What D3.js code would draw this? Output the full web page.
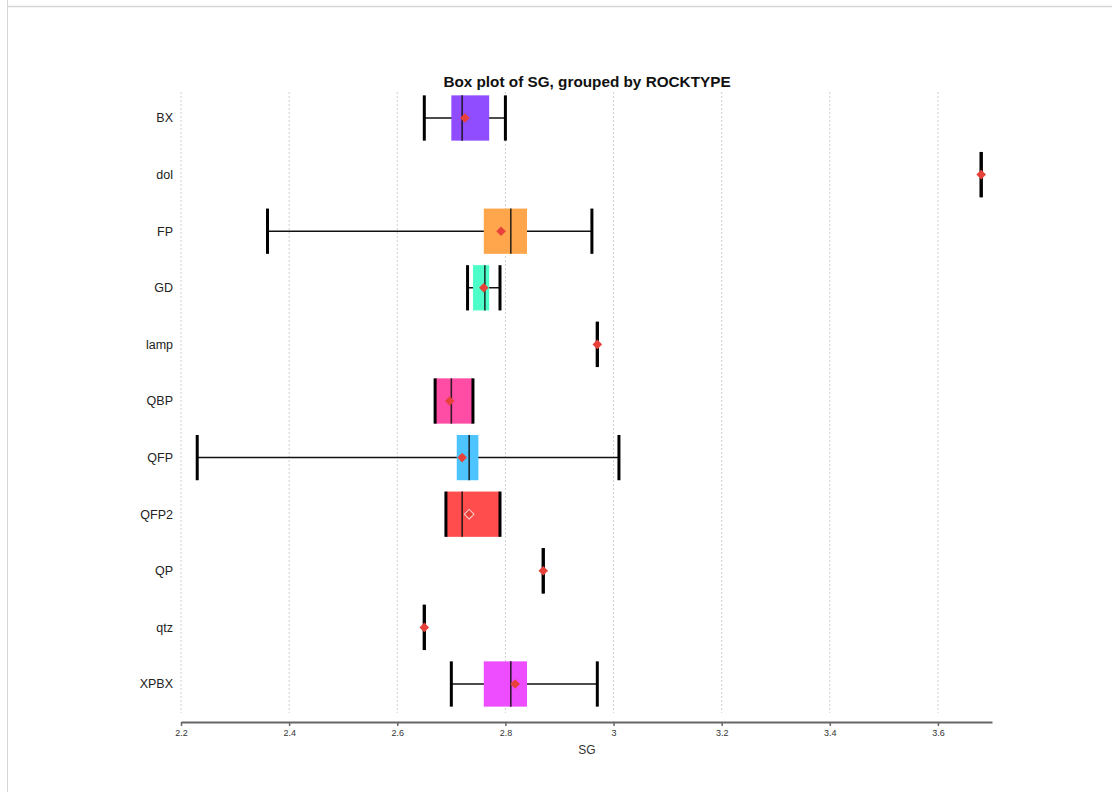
<!DOCTYPE html>
<html>
<head>
<meta charset="utf-8">
<script src="https://cdn.jsdelivr.net/npm/d3@7"></script>
<style>
  html, body { margin: 0; padding: 0; background: #fff; }
  svg { display: block; font-family: "Liberation Sans", Arial, Helvetica, sans-serif; }
</style>
</head>
<body>
<svg id="chart" width="1112" height="792"></svg>
<script>
// Rock types, top to bottom
const rockTypes = ["BX", "dol", "FP", "GD", "lamp", "QBP", "QFP", "QFP2", "QP", "qtz", "XPBX"];
// Five-number summaries of SG per rock type
const whiskerLow  = [2.65, 3.68, 2.36, 2.73, 2.97, 2.67, 2.23, 2.69, 2.87, 2.65, 2.70];
const q1          = [2.70, 3.68, 2.76, 2.74, 2.97, 2.67, 2.71, 2.69, 2.87, 2.65, 2.76];
const medians     = [2.72, 3.68, 2.81, 2.762, 2.97, 2.70, 2.733, 2.72, 2.87, 2.65, 2.81];
const q3          = [2.77, 3.68, 2.84, 2.77, 2.97, 2.74, 2.75, 2.79, 2.87, 2.65, 2.84];
const whiskerHigh = [2.80, 3.68, 2.96, 2.79, 2.97, 2.74, 3.01, 2.79, 2.87, 2.65, 2.97];
const means       = [2.725, 3.68, 2.792, 2.76, 2.97, 2.697, 2.72, 2.733, 2.87, 2.65, 2.818];
const boxColors   = ["#8f4dff", "#ff4d4d", "#ffa64d", "#4dffc9", "#ff4d4d", "#ff4da6", "#4dc4ff", "#ff4d4d", "#ff4d4d", "#ff4d4d", "#ee4dff"];
const xTicks      = [2.2, 2.4, 2.6, 2.8, 3.0, 3.2, 3.4, 3.6];

const groups = rockTypes.map((name, i) => ({
  name, lo: whiskerLow[i], q1: q1[i], med: medians[i], q3: q3[i], hi: whiskerHigh[i],
  mean: means[i], color: boxColors[i]
}));

const svg = d3.select("#chart");

// Page frame
svg.append("line").attr("x1", 7).attr("x2", 1112).attr("y1", 6.5).attr("y2", 6.5)
  .attr("stroke", "#d6d6d6").attr("stroke-width", 1.5);
svg.append("line").attr("x1", 7.5).attr("x2", 7.5).attr("y1", 0).attr("y2", 792)
  .attr("stroke", "#d6d6d6").attr("stroke-width", 1);

const x = d3.scaleLinear().domain([2.2, 3.7]).range([181, 992]);
const y = d3.scaleBand().domain(rockTypes).range([89.7, 712.3]).paddingInner(0.2).paddingOuter(0.1);
const bw = y.bandwidth();
const cy = d => y(d) + bw / 2;

// Title
svg.append("text").attr("x", 587).attr("y", 87).attr("text-anchor", "middle")
  .attr("font-size", 15.3).attr("font-weight", "bold").attr("fill", "#111")
  .text("Box plot of SG, grouped by ROCKTYPE");

// Vertical dotted gridlines
svg.append("g").selectAll("line").data(xTicks).join("line")
  .attr("x1", d => x(d)).attr("x2", d => x(d))
  .attr("y1", 92).attr("y2", 713)
  .attr("stroke", "#cfcfcf").attr("stroke-width", 1).attr("stroke-dasharray", "2,2");

// Category labels
svg.append("g").selectAll("text").data(rockTypes).join("text")
  .attr("x", 173).attr("y", d => cy(d)).attr("dy", "0.35em")
  .attr("text-anchor", "end").attr("font-size", 12.5).attr("fill", "#222")
  .text(d => d);

// X axis
const axisG = svg.append("g").attr("transform", "translate(0,722)")
  .call(d3.axisBottom(x).tickValues(xTicks).tickSize(4).tickSizeOuter(0)
    .tickFormat(d => d3.format("~g")(d)));
axisG.select(".domain").attr("stroke", "#666").attr("stroke-width", 2);
axisG.selectAll(".tick line").attr("stroke", "#666").attr("stroke-width", 1.5);
axisG.selectAll(".tick text").attr("font-size", 9).attr("fill", "#333")
  .attr("font-family", "'Liberation Sans Narrow', 'Liberation Sans', sans-serif").attr("y", 8);

svg.append("text").attr("x", 587).attr("y", 754).attr("text-anchor", "middle")
  .attr("font-size", 12).attr("fill", "#333").text("SG");

// Boxes
const g = svg.append("g").selectAll("g").data(groups).join("g");

// whisker stems
g.append("line")
  .attr("x1", d => x(d.lo)).attr("x2", d => x(d.hi))
  .attr("y1", d => cy(d.name)).attr("y2", d => cy(d.name))
  .attr("stroke", "#111").attr("stroke-width", 1.5);

// boxes
g.filter(d => d.q3 > d.q1).append("rect")
  .attr("x", d => x(d.q1)).attr("width", d => x(d.q3) - x(d.q1))
  .attr("y", d => y(d.name)).attr("height", bw)
  .attr("fill", d => d.color);

// whisker caps
g.selectAll(".cap").data(d => [{ v: d.lo, n: d.name }, { v: d.hi, n: d.name }]).join("line")
  .attr("class", "cap")
  .attr("x1", c => x(c.v)).attr("x2", c => x(c.v))
  .attr("y1", c => y(c.n)).attr("y2", c => y(c.n) + bw)
  .attr("stroke", "#000").attr("stroke-width", 3);

// medians
g.filter(d => d.q3 > d.q1).append("line")
  .attr("x1", d => x(d.med)).attr("x2", d => x(d.med))
  .attr("y1", d => y(d.name)).attr("y2", d => y(d.name) + bw)
  .attr("stroke", "#111").attr("stroke-width", 1.6).attr("stroke-opacity", 0.85);

// means: square markers turned 45°
const marker = d3.symbol().type(d3.symbolSquare).size(46);
g.append("path")
  .attr("d", marker)
  .attr("transform", d => `translate(${x(d.mean)},${cy(d.name)}) rotate(45)`)
  .attr("fill", "#e8413a")
  .attr("stroke", d => d.name === "QFP2" ? "#ffd3d3" : "none")
  .attr("stroke-width", 1);
</script>
</body>
</html>
